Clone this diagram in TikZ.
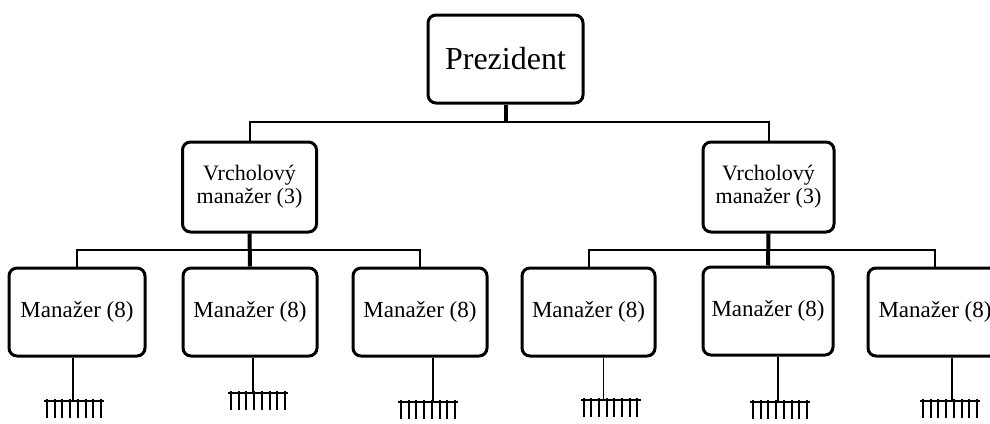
\documentclass[tikz,border=0pt]{standalone}
\usepackage{fontspec}
\setmainfont{Liberation Serif}
\usepackage{tikz}
\usetikzlibrary{calc}

\tikzset{
	box/.style={draw, line width=1.5pt, rounded corners=4pt, fill=white, align=center, inner sep=2pt},
	bar/.style={line width=1pt},
	thickbar/.style={line width=2pt},
	stem/.style={line width=0.8pt},
}

\begin{document}
\begin{tikzpicture}[x=0.5pt, y=-0.5pt]
	\clip (0,0) rectangle (990,423);
	\fill[white] (0,0) rectangle (990,423);

	\node[box, minimum width=77.5pt, minimum height=44pt, font=\fontsize{16}{18}\selectfont] (pres) at (505.5,59) {Prezident};

	\node[box, minimum width=67pt, minimum height=45pt, font=\fontsize{11}{11.5}\selectfont] (v1) at (249.5,187) {Vrcholový\\manažer (3)};
	\node[box, minimum width=65.5pt, minimum height=45pt, font=\fontsize{11}{11.5}\selectfont] (v2) at (768.5,187) {Vrcholový\\manažer (3)};

	\path (77,312) node[box, minimum width=68pt, minimum height=44pt, font=\fontsize{11.5}{13}\selectfont] (m1) {Manažer (8)};
	\path (250,312) node[box, minimum width=67pt, minimum height=44pt, font=\fontsize{11.5}{13}\selectfont] (m2) {Manažer (8)};
	\path (420,312) node[box, minimum width=67pt, minimum height=44pt, font=\fontsize{11.5}{13}\selectfont] (m3) {Manažer (8)};
	\path (588.5,312) node[box, minimum width=66.5pt, minimum height=44pt, font=\fontsize{11.5}{13}\selectfont] (m4) {Manažer (8)};
	\path (768,311) node[box, minimum width=65pt, minimum height=44pt, font=\fontsize{11.5}{13}\selectfont] (m5) {Manažer (8)};
	\path (935,312) node[box, minimum width=67pt, minimum height=44pt, font=\fontsize{11.5}{13}\selectfont] (m6) {Manažer (8)};

	\coordinate (topbar) at (0,122);
	\coordinate (lowbar) at (0,250);

	\draw[thickbar] (pres.south) -- (pres.south |- topbar);
	\draw[bar] (v1.north) -- (v1.north |- topbar) -- (v2.north |- topbar) -- (v2.north);

	\draw[thickbar] (v1.south) -- (m2.north);
	\draw[bar] (m1.north) -- (m1.north |- lowbar) -- (m3.north |- lowbar) -- (m3.north);
	\draw[thickbar] (v2.south) -- (m5.north);
	\draw[bar] (m4.north) -- (m4.north |- lowbar) -- (m6.north |- lowbar) -- (m6.north);

	% stems with the staff combs below
	\foreach \n/\dx/\cdx/\cy in {m1/-4/1/401, m2/3/5/393, m3/13/-5/402, m4/15/7/400, m5/10/2/402, m6/17/-2/401}{
		\draw[stem] ($(\n.south)+(\dx,0)$) -- ($(\n.south |- 0,\cy)+(\dx,0)$) coordinate (\n-comb);
		\draw[stem] ($(\n-comb)+(\cdx-30,0)$) -- ($(\n-comb)+(\cdx+30,0)$);
		\foreach \i in {0,...,7}
			\draw[line width=1pt] ($(\n-comb)+(\cdx-27+\i*7.7,-2)$) -- ++(0,19);
	}
\end{tikzpicture}
\end{document}
